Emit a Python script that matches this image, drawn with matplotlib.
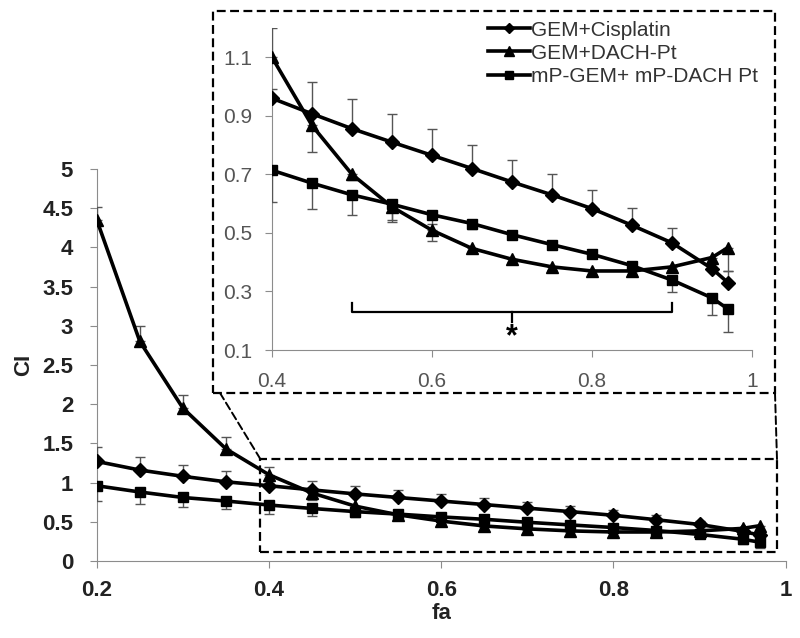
import matplotlib
matplotlib.use("Agg")
import matplotlib.pyplot as plt
from matplotlib.patches import Rectangle, ConnectionPatch
from matplotlib.lines import Line2D

plt.rcParams['font.family'] = ['Liberation Sans', 'DejaVu Sans']

fa = [0.2, 0.25, 0.3, 0.35, 0.4, 0.45, 0.5, 0.55, 0.6, 0.65, 0.7, 0.75, 0.8, 0.85, 0.9, 0.95, 0.97]

cis = [1.27, 1.16, 1.08, 1.01, 0.96, 0.907, 0.856, 0.81, 0.765, 0.72, 0.674, 0.63, 0.583, 0.526, 0.466, 0.378, 0.33]
cis_lo = [0] * 17
cis_up = [0.19, 0.17, 0.15, 0.14, 0.03, 0.11, 0.10, 0.095, 0.09, 0.08, 0.075, 0.07, 0.063, 0.06, 0.05, 0.02, 0.04]

dach = [4.35, 2.8, 1.95, 1.43, 1.10, 0.867, 0.70, 0.589, 0.509, 0.447, 0.41, 0.384, 0.37, 0.37, 0.384, 0.416, 0.45]
dach_lo = [0, 0, 0, 0, 0, 0.09, 0.02, 0.05, 0.035, 0.01, 0.01, 0.01, 0.01, 0.01, 0.01, 0.04, 0.08]
dach_up = [0.17, 0.2, 0.17, 0.15, 0.1, 0, 0, 0, 0, 0, 0, 0, 0, 0, 0, 0, 0]

mp = [0.96, 0.88, 0.81, 0.765, 0.714, 0.67, 0.63, 0.598, 0.562, 0.532, 0.494, 0.46, 0.427, 0.388, 0.339, 0.278, 0.24]
mp_lo = [0.19, 0.15, 0.12, 0.10, 0.11, 0.09, 0.07, 0.055, 0.03, 0.02, 0.01, 0.01, 0.01, 0.01, 0.04, 0.06, 0.08]
mp_up = [0] * 17

labels = ['GEM+Cisplatin', 'GEM+DACH-Pt', 'mP-GEM+ mP-DACH Pt']
markers = ['D', '^', 's']
msizes = [7, 9, 7]

series = [(cis, cis_lo, cis_up), (dach, dach_lo, dach_up), (mp, mp_lo, mp_up)]

main_xticks = [0.2, 0.4, 0.6, 0.8, 1.0]
main_xticklabels = ['0.2', '0.4', '0.6', '0.8', '1']
main_yticks = [0, 0.5, 1, 1.5, 2, 2.5, 3, 3.5, 4, 4.5, 5]
main_yticklabels = ['0', '0.5', '1', '1.5', '2', '2.5', '3', '3.5', '4', '4.5', '5']
in_xticks = [0.4, 0.6, 0.8, 1.0]
in_xticklabels = ['0.4', '0.6', '0.8', '1']
in_yticks = [0.1, 0.3, 0.5, 0.7, 0.9, 1.1]
in_yticklabels = ['0.1', '0.3', '0.5', '0.7', '0.9', '1.1']

fig = plt.figure(figsize=(8, 6.38), dpi=100)
ax = fig.add_axes([0.121, 0.1207, 0.861, 0.6144])
axin = fig.add_axes([0.34, 0.4514, 0.60, 0.5047])

spine_c = '#8c8c8c'
err_c = '#555555'

def draw(a, lw):
    for (y, lo, up), m, ms in zip(series, markers, msizes):
        a.errorbar(fa, y, yerr=[lo, up], fmt='-', marker=m, color='black', lw=lw,
                   ms=ms, ecolor=err_c, elinewidth=1.0, capsize=3.5,
                   capthick=1.0, zorder=3)

draw(ax, 2.6)
ax.set_xlim(0.2, 1.0)
ax.set_ylim(0, 5)
ax.set_xticks(main_xticks)
ax.set_xticklabels(main_xticklabels)
ax.set_yticks(main_yticks)
ax.set_yticklabels(main_yticklabels)
for s in ['top', 'right']:
    ax.spines[s].set_visible(False)
for s in ['left', 'bottom']:
    ax.spines[s].set_color(spine_c)
ax.tick_params(axis='both', colors=spine_c, labelcolor='#222222', labelsize=16, length=5)
ax.tick_params(axis='y', pad=12)
ax.tick_params(axis='x', pad=9)
for t in ax.get_xticklabels() + ax.get_yticklabels():
    t.set_fontweight('bold')
ax.set_xlabel('fa', fontsize=16, fontweight='bold', color='#222222', labelpad=1)
ax.set_ylabel('CI', fontsize=16, fontweight='bold', color='#222222', labelpad=6)

# dashed zoom box on main plot
ax.add_patch(Rectangle((0.39, 0.12), 0.60, 1.18, fill=False, ls=(0, (4, 2)),
                       lw=1.6, ec='black', clip_on=False, zorder=5))

# inset
draw(axin, 2.6)
axin.set_xlim(0.4, 1.0)
axin.set_ylim(0.1, 1.2)
axin.set_xticks(in_xticks)
axin.set_xticklabels(in_xticklabels)
axin.set_yticks(in_yticks)
axin.set_yticklabels(in_yticklabels)
for s in ['top', 'right']:
    axin.spines[s].set_visible(False)
for s in ['left', 'bottom']:
    axin.spines[s].set_color(spine_c)
axin.tick_params(axis='both', colors=spine_c, labelcolor='#555555', labelsize=15, length=5)
axin.tick_params(axis='y', pad=9)
axin.tick_params(axis='x', pad=11)
axin.patch.set_alpha(0)

# bracket and asterisk
axin.plot([0.5, 0.5, 0.9, 0.9], [0.26, 0.23, 0.23, 0.26], color='black', lw=1.6)
axin.plot([0.7, 0.7], [0.23, 0.195], color='black', lw=1.6)
axin.text(0.7, 0.145, '*', ha='center', va='center', fontsize=22, fontweight='bold')

handles = [Line2D([], [], color='black', lw=2.6, marker=m, ms=ms * 0.8)
           for m, ms in zip(markers, msizes)]
leg = axin.legend(handles, labels, loc='upper left', bbox_to_anchor=(0.45, 1.023),
                  frameon=False, fontsize=15, handlelength=2.0, handletextpad=0.05,
                  labelspacing=0.2, borderaxespad=0.0, borderpad=0.0)
for t in leg.get_texts():
    t.set_color('#333333')

# inset dashed frame in figure coords
L, R, T, B = 213 / 800, 775 / 800, 1 - 11 / 638, 1 - 393 / 638
fig.patches.append(Rectangle((L, B), R - L, T - B, transform=fig.transFigure,
                             fill=False, ls=(0, (4, 2)), lw=1.6, ec='black'))

# connector lines
for (xd, yd), (xf, yf) in [((0.39, 1.30), (220 / 800, B)), ((0.99, 1.30), (R, B))]:
    cp = ConnectionPatch(xyA=(xd, yd), coordsA=ax.transData, xyB=(xf, yf),
                         coordsB=fig.transFigure, ls=(0, (4, 2)), lw=1.4, color='black')
    fig.add_artist(cp)

fig.savefig('out.png', dpi=100)
